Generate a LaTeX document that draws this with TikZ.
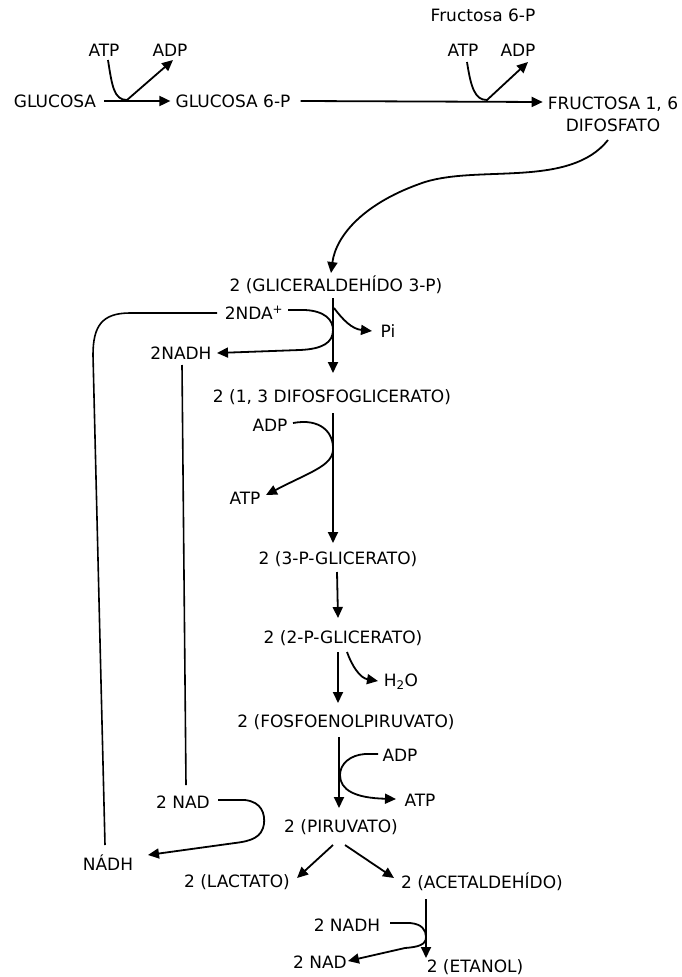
\documentclass[tikz,border=0pt]{standalone}
\usepackage{fontspec}
\setmainfont{DejaVu Sans}
\usetikzlibrary{arrows.meta}
\begin{document}
\begin{tikzpicture}[x=1pt,y=-1pt,
  lbl/.style={font=\fontsize{17}{22}\selectfont, inner sep=0pt, anchor=center},
  ln/.style={line width=1.8pt},
  arr/.style={line width=1.8pt,-{Triangle[length=11pt,width=10pt]}},
  loopln/.style={line width=1.6pt}]
\useasboundingbox (0,0) rectangle (682,977);

% ---- labels ----
\node[lbl] (glc) at (55,101) {GLUCOSA};
\node[lbl] (g6p) at (233,101) {GLUCOSA 6-P};
\node[lbl] (atpA) at (104,50) {ATP};
\node[lbl] (adpA) at (170,50) {ADP};
\node[lbl] (f6p) at (483,15) {Fructosa 6-P};
\node[lbl] (atpB) at (463,50) {ATP};
\node[lbl] (adpB) at (518,50) {ADP};
\node[lbl, align=center] (fbp) at (613,114) {FRUCTOSA 1, 6\\DIFOSFATO};
\node[lbl] (gap) at (336,285) {2 (GLICERALDEHÍDO 3-P)};
\node[lbl] (nda) at (254,313) {2NDA\textsuperscript{+}};
\node[lbl] (pi) at (388,331) {Pi};
\node[lbl] (nadhA) at (181,353) {2NADH};
\node[lbl] (bpg) at (332,397) {2 (1, 3 DIFOSFOGLICERATO)};
\node[lbl] (adpC) at (270,425) {ADP};
\node[lbl] (atpC) at (245,498) {ATP};
\node[lbl] (pgC) at (338,559) {2 (3-P-GLICERATO)};
\node[lbl] (pgB) at (343,638) {2 (2-P-GLICERATO)};
\node[lbl] (h2o) at (401,682) {H\textsubscript{2}O};
\node[lbl] (pep) at (346,722) {2 (FOSFOENOLPIRUVATO)};
\node[lbl] (adpD) at (400,755) {ADP};
\node[lbl] (atpD) at (420,800) {ATP};
\node[lbl] (pyr) at (341,827) {2 (PIRUVATO)};
\node[lbl] (nadA) at (183,802) {2 NAD};
\node[lbl] (nadhB) at (108,863) {NÁDH};
\node[lbl] (lac) at (237,882) {2 (LACTATO)};
\node[lbl] (acet) at (482,882) {2 (ACETALDEHÍDO)};
\node[lbl] (nadhC) at (347,925) {2 NADH};
\node[lbl] (nadB) at (320,962) {2 NAD};
\node[lbl] (eth) at (475,967) {2 (ETANOL)};

% ---- named connector points ----
\coordinate (atpAs) at (108,60);
\coordinate (adpAs) at (173,60);
\coordinate (atpBs) at (467,62);
\coordinate (adpBs) at (528,62);
\coordinate (fbps) at (608,140);
\coordinate (gapn) at (331,273);
\coordinate (t1a) at (333,298);
\coordinate (t1b) at (333,373);
\coordinate (ndae) at (288,310);
\coordinate (nadhAe) at (217,353);
\coordinate (pis) at (334,308);
\coordinate (piw) at (372,331);
\coordinate (ndaw) at (217,313);
\coordinate (nadhBn) at (105,845);
\coordinate (nadhAs) at (182,365);
\coordinate (nadAn) at (186,785);
\coordinate (nadAe) at (218,800);
\coordinate (nadhBe) at (148,855);
\coordinate (t2a) at (333,413);
\coordinate (t2b) at (333,543);
\coordinate (adpCe) at (293,423);
\coordinate (atpCe) at (266,495);
\coordinate (t3a) at (337,572);
\coordinate (t3b) at (338,618);
\coordinate (t4a) at (338,652);
\coordinate (t4b) at (338,703);
\coordinate (h2os) at (347,652);
\coordinate (h2ow) at (378,681);
\coordinate (t5a) at (339,737);
\coordinate (t5b) at (339,808);
\coordinate (adpDw) at (378,754);
\coordinate (atpDw) at (396,799);
\coordinate (pyrl) at (333,845);
\coordinate (pyrr) at (345,845);
\coordinate (lacn) at (297,878);
\coordinate (acetn) at (394,878);
\coordinate (t6a) at (426,899);
\coordinate (t6b) at (426,958);
\coordinate (nadhCe) at (390,923);
\coordinate (nadBe) at (348,961);

% ---- connectors ----
\draw[arr] ([xshift=8pt]glc.east) -- ([xshift=-5pt]g6p.west);
\draw[arr] (atpAs) .. controls (112,86) and (114,100) .. (127,100) -- (adpAs);
\draw[arr] ([xshift=10pt]g6p.east) -- ([xshift=-5pt,yshift=-1pt]fbp.west |- g6p.east);
\draw[arr] (atpBs) .. controls (471,88) and (475,100) .. (487,100) -- (adpBs);
\draw[arr] (fbps) .. controls (570,188) and (480,165) .. (425,182)
           .. controls (365,202) and (336,235) .. (gapn);

\draw[arr] (t1a) -- (t1b);
\draw[arr] (ndae) -- (305,310) .. controls (325,311) and (333,320) .. (333,330)
           .. controls (333,343) and (322,349) .. (300,350) -- (nadhAe);
\draw[arr] (pis) .. controls (343,320) and (352,329) .. (piw);
\draw[loopln] (ndaw) -- (130,313) .. controls (102,313) and (93,326) .. (93,355) -- (nadhBn);
\draw[loopln] (nadhAs) -- (nadAn);
\draw[arr] (nadAe) -- (245,800) .. controls (262,802) and (265,814) .. (264,824)
           .. controls (262,837) and (252,841) .. (235,843) -- (nadhBe);

\draw[arr] (t2a) -- (t2b);
\draw[arr] (adpCe) .. controls (320,418) and (334,432) .. (333,450)
           .. controls (332,466) and (310,472) .. (atpCe);
\draw[arr] (t3a) -- (t3b);
\draw[arr] (t4a) -- (t4b);
\draw[arr] (h2os) .. controls (352,666) and (360,678) .. (h2ow);
\draw[arr] (t5a) -- (t5b);
\draw[arr] (adpDw) -- (365,754) .. controls (350,755) and (340,764) .. (340,775)
           .. controls (340,790) and (355,798) .. (atpDw);
\draw[arr] (pyrl) -- (lacn);
\draw[arr] (pyrr) -- (acetn);
\draw[arr] (t6a) -- (t6b);
\draw[arr] (nadhCe) -- (410,923) .. controls (422,924) and (426,930) .. (426,937)
           .. controls (426,945) and (418,947) .. (405,948) -- (nadBe);
\end{tikzpicture}
\end{document}
